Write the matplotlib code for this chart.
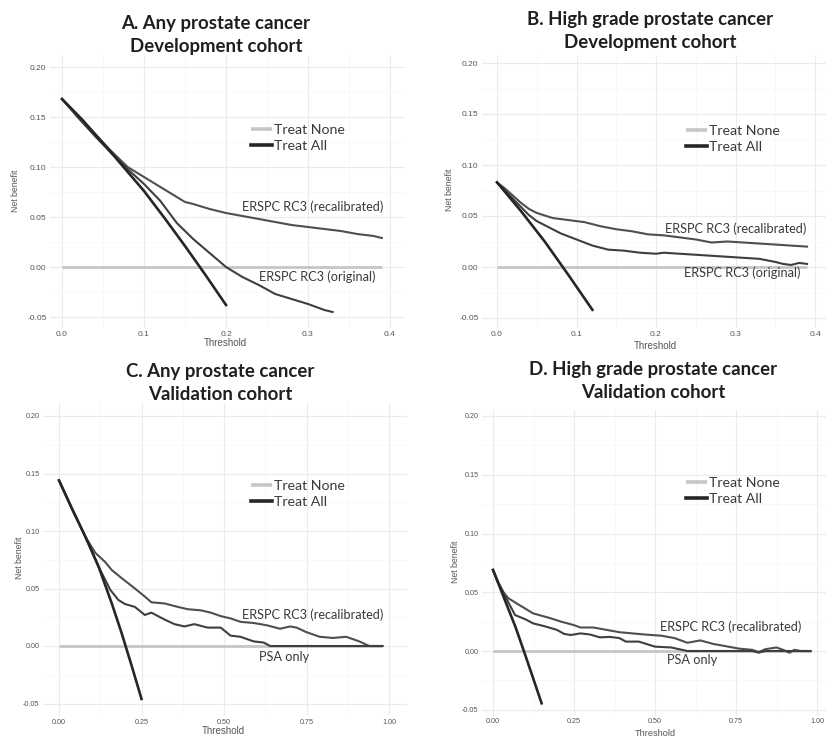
import matplotlib
matplotlib.use("Agg")
import matplotlib.pyplot as plt
from matplotlib.ticker import MultipleLocator, FuncFormatter

plt.rcParams['axes.unicode_minus'] = False

# ---------------- data ----------------
# Panel A: Any prostate cancer, development cohort
a_all_x = [0, 0.025, 0.05, 0.075, 0.10, 0.125, 0.15, 0.175, 0.20]
a_all_y = [0.168, 0.147, 0.124, 0.100, 0.076, 0.049, 0.021, -0.008, -0.038]
a_rec_x = [0, 0.02, 0.04, 0.06, 0.08, 0.10, 0.12, 0.14, 0.15, 0.16, 0.18, 0.20, 0.22,
           0.24, 0.26, 0.28, 0.30, 0.32, 0.34, 0.36, 0.37, 0.38, 0.39]
a_rec_y = [0.168, 0.151, 0.133, 0.116, 0.100, 0.090, 0.080, 0.070, 0.065, 0.063, 0.058,
           0.054, 0.051, 0.048, 0.045, 0.042, 0.040, 0.038, 0.036, 0.033, 0.032, 0.031, 0.029]
a_org_x = [0, 0.02, 0.04, 0.06, 0.08, 0.10, 0.12, 0.14, 0.16, 0.18, 0.20, 0.22, 0.24,
           0.26, 0.28, 0.30, 0.32, 0.33]
a_org_y = [0.168, 0.149, 0.131, 0.114, 0.098, 0.083, 0.066, 0.044, 0.028, 0.014, 0.000,
           -0.010, -0.018, -0.027, -0.032, -0.037, -0.043, -0.045]
a_none_x = [0, 0.39]

# Panel B: High grade prostate cancer, development cohort
b_all_x = [0, 0.03, 0.06, 0.09, 0.12]
b_all_y = [0.083, 0.055, 0.025, -0.008, -0.042]
b_rec_x = [0, 0.01, 0.02, 0.03, 0.04, 0.05, 0.07, 0.09, 0.11, 0.13, 0.15, 0.17, 0.19,
           0.21, 0.23, 0.25, 0.27, 0.29, 0.31, 0.33, 0.35, 0.37, 0.39]
b_rec_y = [0.083, 0.077, 0.070, 0.063, 0.057, 0.053, 0.048, 0.046, 0.044, 0.040, 0.037,
           0.035, 0.032, 0.031, 0.029, 0.027, 0.024, 0.025, 0.024, 0.023, 0.022, 0.021, 0.020]
b_org_x = [0, 0.01, 0.02, 0.03, 0.04, 0.05, 0.06, 0.08, 0.10, 0.12, 0.14, 0.16, 0.18,
           0.20, 0.21, 0.23, 0.25, 0.27, 0.29, 0.31, 0.33, 0.35, 0.36, 0.37, 0.38, 0.39]
b_org_y = [0.083, 0.075, 0.067, 0.059, 0.051, 0.045, 0.041, 0.033, 0.027, 0.021, 0.017,
           0.016, 0.014, 0.013, 0.014, 0.013, 0.012, 0.011, 0.010, 0.009, 0.008, 0.005,
           0.003, 0.002, 0.004, 0.003]
b_none_x = [0, 0.39]

# Panel C: Any prostate cancer, validation cohort
c_all_x = [0, 0.04, 0.08, 0.12, 0.16, 0.19, 0.22, 0.25]
c_all_y = [0.144, 0.119, 0.095, 0.069, 0.037, 0.011, -0.017, -0.046]
c_rec_x = [0, 0.04, 0.08, 0.11, 0.14, 0.16, 0.19, 0.23, 0.26, 0.28, 0.32, 0.36, 0.39,
           0.43, 0.46, 0.49, 0.52, 0.55, 0.59, 0.63, 0.67, 0.70, 0.72, 0.75, 0.79, 0.83,
           0.87, 0.91, 0.94, 0.98]
c_rec_y = [0.144, 0.119, 0.095, 0.081, 0.073, 0.066, 0.059, 0.050, 0.043, 0.038, 0.037,
           0.034, 0.032, 0.031, 0.029, 0.026, 0.024, 0.021, 0.020, 0.018, 0.015, 0.017,
           0.016, 0.012, 0.008, 0.007, 0.008, 0.004, 0.000, 0.000]
c_psa_x = [0, 0.04, 0.08, 0.12, 0.155, 0.18, 0.20, 0.23, 0.26, 0.28, 0.32, 0.35, 0.38,
           0.41, 0.45, 0.49, 0.52, 0.55, 0.59, 0.62, 0.64, 0.98]
c_psa_y = [0.144, 0.119, 0.095, 0.069, 0.049, 0.040, 0.0365, 0.034, 0.027, 0.029, 0.023,
           0.019, 0.017, 0.019, 0.016, 0.016, 0.009, 0.008, 0.004, 0.003, 0.000, 0.000]
c_none_x = [0, 0.98]

# Panel D: High grade prostate cancer, validation cohort
d_all_x = [0, 0.04, 0.07, 0.094, 0.12, 0.15]
d_all_y = [0.069, 0.041, 0.020, 0.001, -0.020, -0.0445]
d_rec_x = [0, 0.015, 0.032, 0.047, 0.073, 0.10, 0.124, 0.15, 0.176, 0.21, 0.25, 0.27,
           0.31, 0.35, 0.39, 0.43, 0.47, 0.52, 0.56, 0.60, 0.64, 0.68, 0.72, 0.76, 0.80,
           0.82, 0.84, 0.875, 0.895, 0.915, 0.93, 0.95, 0.98]
d_rec_y = [0.069, 0.059, 0.050, 0.045, 0.0405, 0.036, 0.032, 0.030, 0.028, 0.025, 0.022,
           0.020, 0.020, 0.018, 0.016, 0.015, 0.014, 0.013, 0.011, 0.007, 0.009, 0.006,
           0.004, 0.002, 0.001, -0.001, 0.0015, 0.003, 0.001, -0.0015, 0.001, 0.000, 0.000]
d_psa_x = [0, 0.015, 0.032, 0.05, 0.068, 0.10, 0.124, 0.16, 0.197, 0.22, 0.24, 0.27,
           0.30, 0.33, 0.36, 0.39, 0.41, 0.45, 0.50, 0.55, 0.60, 0.80, 0.82, 0.84, 0.98]
d_psa_y = [0.069, 0.059, 0.050, 0.040, 0.0306, 0.027, 0.0235, 0.021, 0.018, 0.0145,
           0.0136, 0.015, 0.014, 0.0116, 0.012, 0.011, 0.008, 0.008, 0.0037, 0.003, 0.000,
           0.000, -0.0014, 0.000, 0.000]
d_none_x = [0, 0.98]

titles = ["A. Any prostate cancer\nDevelopment cohort",
          "B. High grade prostate cancer\nDevelopment cohort",
          "C. Any prostate cancer\nValidation cohort",
          "D. High grade prostate cancer\nValidation cohort"]
model_labels = [("ERSPC RC3 (recalibrated)", "ERSPC RC3 (original)"),
                ("ERSPC RC3 (recalibrated)", "ERSPC RC3 (original)"),
                ("ERSPC RC3 (recalibrated)", "PSA only"),
                ("ERSPC RC3 (recalibrated)", "PSA only")]

# ---------------- styling ----------------
W, H = 827, 739
fig = plt.figure(figsize=(W / 100, H / 100), dpi=100)
fig.patch.set_facecolor("white")

C_NONE = "#c6c6c9"
C_ALL = "#262626"
C_MODEL = "#4f4f4f"
TXT = "#3a3a3a"
TITLE_FONT = ["Lato", "DejaVu Sans"]
TICK_FONT = ["Liberation Sans", "DejaVu Sans"]


def fx(px):
    return px / W


def fy(py):
    return 1 - py / H


def make_ax(left, top, right, bottom, x0, xs, y0, ys):
    ax = fig.add_axes([left / W, 1 - bottom / H, (right - left) / W, (bottom - top) / H])
    ax.set_xlim((left - x0) / xs, (right - x0) / xs)
    ax.set_ylim((y0 - bottom) / ys, (y0 - top) / ys)
    for s in ax.spines.values():
        s.set_visible(False)
    ax.set_facecolor("white")
    return ax


def style(ax, xmaj, xfmt, tick_fs, pad):
    ax.xaxis.set_major_locator(MultipleLocator(xmaj))
    ax.xaxis.set_minor_locator(MultipleLocator(xmaj / 2))
    ax.yaxis.set_major_locator(MultipleLocator(0.05))
    ax.yaxis.set_minor_locator(MultipleLocator(0.025))
    ax.xaxis.set_major_formatter(FuncFormatter(lambda v, p: xfmt.format(v)))
    ax.yaxis.set_major_formatter(FuncFormatter(lambda v, p: "{:.2f}".format(v).replace("-0.00", "0.00")))
    ax.grid(True, which="major", color="#ebebeb", lw=0.8, zorder=0)
    ax.grid(True, which="minor", color="#f5f5f5", lw=0.5, zorder=0)
    ax.tick_params(which="both", length=0, colors="#555555", labelsize=tick_fs, pad=2.5)
    ax.tick_params(axis="x", pad=pad)
    for lab in ax.get_xticklabels() + ax.get_yticklabels():
        lab.set_fontfamily(TICK_FONT)
    ax.set_axisbelow(True)


panels = [
    dict(box=(50, 55, 405, 328), map=(62, 820, 267, 1000), xmaj=0.1, xfmt="{:.1f}", tfs=6.0, pad=2.5,
         none=a_none_x, all=(a_all_x, a_all_y), m1=(a_rec_x, a_rec_y), m2=(a_org_x, a_org_y),
         title_c=(216, 35), leg=(251, 124), lab1=(242, 207), lab2=(259, 277),
         ylab=(15, 191), xlab=(225, 343), xfs=7.0),
    dict(box=(482, 55, 826, 328), map=(497, 795, 267, 1020), xmaj=0.1, xfmt="{:.1f}", tfs=6.0, pad=2.5,
         none=b_none_x, all=(b_all_x, b_all_y), m1=(b_rec_x, b_rec_y), m2=(b_org_x, b_org_y),
         title_c=(650, 31), leg=(686, 125), lab1=(665, 229), lab2=(684, 273),
         ylab=(450, 190), xlab=(655, 346), xfs=7.0),
    dict(box=(43, 403, 407, 716), map=(59, 330, 646, 1150), xmaj=0.25, xfmt="{:.2f}", tfs=5.2, pad=2.5,
         none=c_none_x, all=(c_all_x, c_all_y), m1=(c_rec_x, c_rec_y), m2=(c_psa_x, c_psa_y),
         title_c=(220, 383), leg=(251, 480), lab1=(242, 615), lab2=(259, 657),
         ylab=(20, 558), xlab=(223, 731), xfs=7.0),
    dict(box=(482, 410, 826, 716), map=(493, 324, 651, 1175), xmaj=0.25, xfmt="{:.2f}", tfs=5.2, pad=1.5,
         none=d_none_x, all=(d_all_x, d_all_y), m1=(d_rec_x, d_rec_y), m2=(d_psa_x, d_psa_y),
         title_c=(653, 381), leg=(686, 477), lab1=(660, 627), lab2=(667, 660),
         ylab=(455, 562), xlab=(655, 733), xfs=6.6),
]

for i, p in enumerate(panels):
    ax = make_ax(*p["box"], *p["map"])
    style(ax, p["xmaj"], p["xfmt"], p["tfs"], p["pad"])
    ax.plot(p["none"], [0, 0], color=C_NONE, lw=2.0, solid_capstyle="butt", label="Treat None", zorder=2)
    ax.plot(*p["all"], color=C_ALL, lw=1.9, label="Treat All", zorder=4)
    ax.plot(*p["m1"], color=C_MODEL, lw=1.5, zorder=3)
    ax.plot(*p["m2"], color="#3f3f3f", lw=1.5, zorder=3)

    fig.text(fx(p["title_c"][0]), fy(p["title_c"][1]), titles[i], ha="center", va="center",
             fontsize=13.4, fontweight="bold", family=TITLE_FONT, color="#1f1f1f", linespacing=1.38)

    leg = ax.legend(loc="upper left", bbox_to_anchor=(fx(p["leg"][0]), fy(p["leg"][1])),
                    bbox_transform=fig.transFigure, frameon=False,
                    prop={"family": TITLE_FONT, "size": 10.2}, handlelength=1.45, handletextpad=0.2,
                    labelspacing=0.3, borderpad=0, borderaxespad=0)
    for t in leg.get_texts():
        t.set_color(TXT)
    for h in leg.legend_handles:
        h.set_linewidth(2.6)

    fig.text(fx(p["lab1"][0]), fy(p["lab1"][1]), model_labels[i][0], ha="left", va="center",
             fontsize=9.2, family=TITLE_FONT, color=TXT)
    fig.text(fx(p["lab2"][0]), fy(p["lab2"][1]), model_labels[i][1], ha="left", va="center",
             fontsize=9.2, family=TITLE_FONT, color=TXT)

    fig.text(fx(p["ylab"][0]), fy(p["ylab"][1]), "Net benefit", rotation=90, ha="center",
             va="center", fontsize=6.3, family=TICK_FONT, color="#555555")
    fig.text(fx(p["xlab"][0]), fy(p["xlab"][1]), "Threshold", ha="center", va="center",
             fontsize=p["xfs"], family=TICK_FONT, color="#555555")

fig.savefig("out.png", dpi=100, facecolor="white")
